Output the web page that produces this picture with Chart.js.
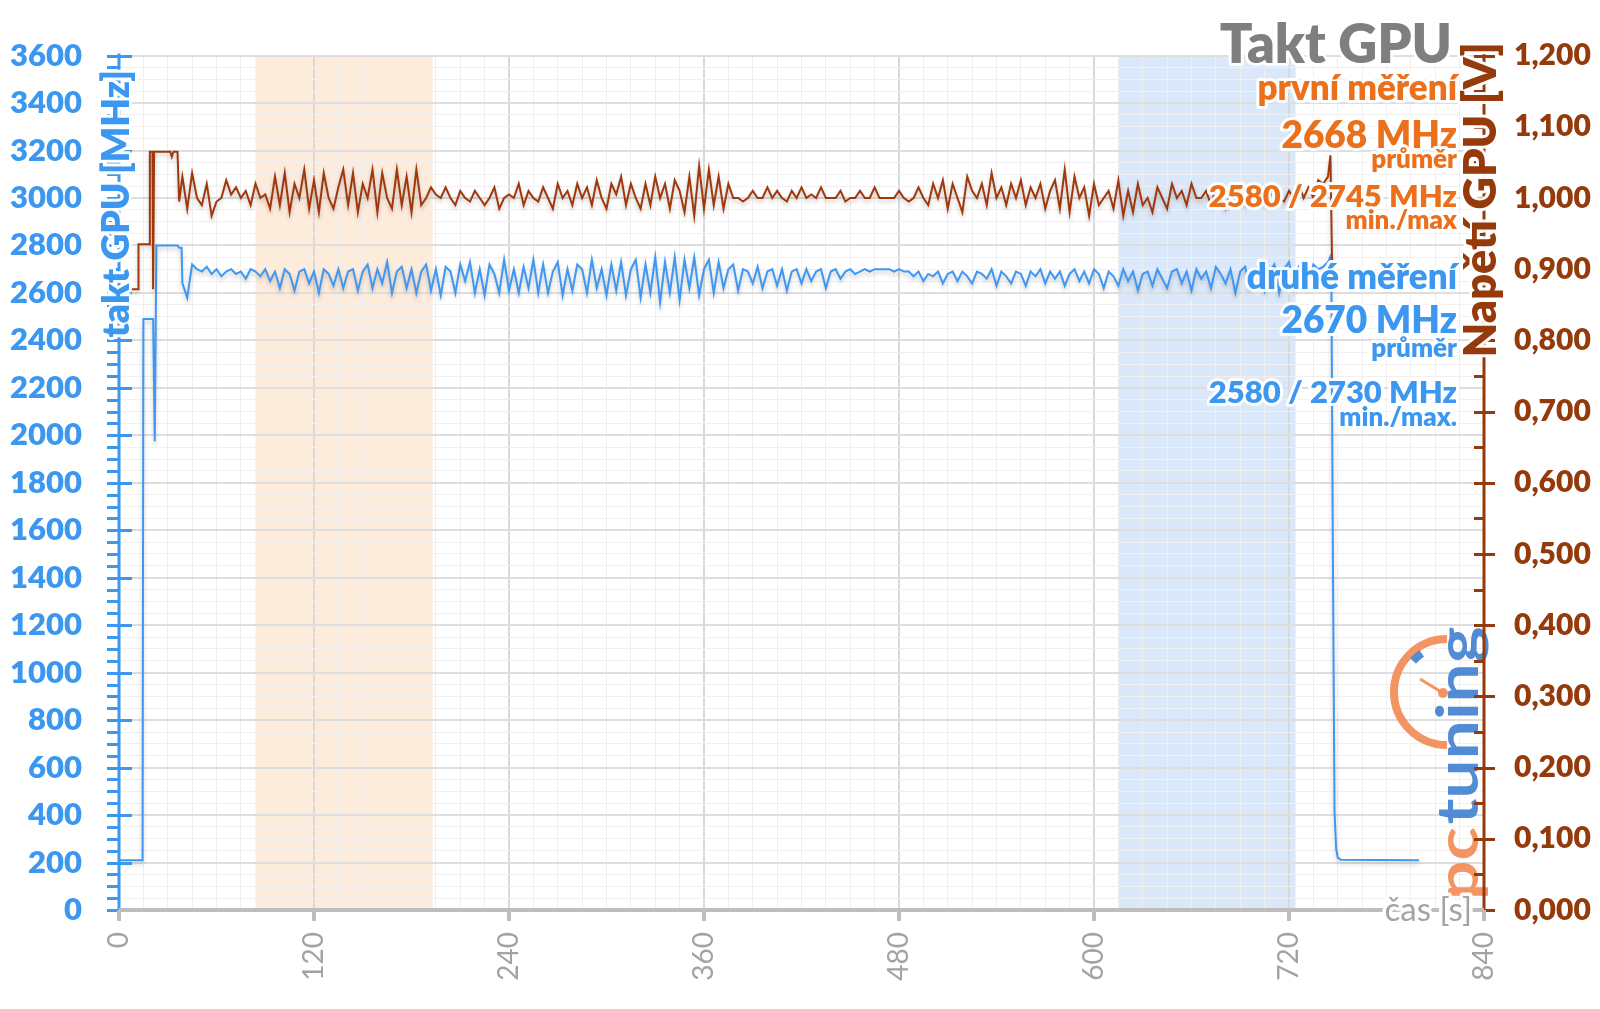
<!DOCTYPE html>
<html>
<head>
<meta charset="utf-8">
<script src="https://cdn.jsdelivr.net/npm/chart.js@4.4.1/dist/chart.umd.min.js"></script>
<style>
  html, body { margin: 0; padding: 0; background: #fff; }
  canvas { display: block; }
</style>
</head>
<body>
<canvas id="chart" width="1600" height="1009"></canvas>
<script>
// GPU clock (MHz, left axis) and GPU voltage (V, right axis), time in seconds
const sampleStart = 39;
const sampleStep = 3;

const clockHead = [[0, 210], [14.5, 210], [15, 2490], [21, 2490], [22, 1975], [23, 2800], [36, 2800], [37, 2790], [38.5, 2790]];
const clockValues = [
  2640, 2580, 2720, 2700, 2690, 2710, 2680, 2700, 2670, 2690,
  2700, 2680, 2690, 2660, 2700, 2690, 2670, 2700, 2650, 2690,
  2620, 2700, 2680, 2610, 2690, 2700, 2640, 2690, 2600, 2700,
  2680, 2630, 2700, 2620, 2690, 2700, 2610, 2690, 2720, 2620,
  2700, 2640, 2730, 2600, 2690, 2710, 2620, 2700, 2600, 2690,
  2720, 2610, 2700, 2590, 2710, 2690, 2600, 2720, 2650, 2730,
  2600, 2700, 2590, 2720, 2680, 2600, 2740, 2610, 2700, 2600,
  2710, 2620, 2740, 2600, 2720, 2600, 2690, 2730, 2590, 2700,
  2610, 2720, 2700, 2600, 2740, 2620, 2700, 2590, 2720, 2610,
  2730, 2590, 2700, 2740, 2580, 2720, 2600, 2750, 2560, 2730,
  2600, 2750, 2570, 2740, 2620, 2750, 2590, 2700, 2740, 2600,
  2730, 2620, 2700, 2720, 2610, 2700, 2690, 2640, 2710, 2620,
  2690, 2700, 2630, 2700, 2610, 2690, 2700, 2640, 2700, 2650,
  2690, 2700, 2620, 2690, 2700, 2660, 2690, 2700, 2680, 2690,
  2700, 2690, 2700, 2700, 2700, 2700, 2690, 2700, 2690, 2690,
  2670, 2690, 2650, 2680, 2670, 2690, 2640, 2680, 2690, 2650,
  2690, 2670, 2640, 2690, 2680, 2660, 2700, 2630, 2690, 2670,
  2640, 2690, 2680, 2630, 2690, 2670, 2700, 2640, 2690, 2660,
  2690, 2630, 2680, 2700, 2650, 2690, 2640, 2700, 2680, 2620,
  2690, 2670, 2630, 2700, 2650, 2690, 2610, 2680, 2690, 2630,
  2700, 2660, 2620, 2690, 2700, 2640, 2690, 2610, 2700, 2660,
  2690, 2620, 2710, 2680, 2640, 2700, 2600, 2690, 2710, 2620,
  2700, 2720, 2610, 2690, 2720, 2600, 2700, 2730, 2620, 2710,
  2690, 2630, 2720, 2700, 2710, 2730
];
const clockTail = [[746, 2760], [747, 1500], [748, 420], [749, 260], [750, 220], [752, 212], [800, 210]];

const voltHead = [[5.5, 0.872], [11.7, 0.872], [12, 0.935], [18.7, 0.935], [19, 1.065], [20.6, 1.065], [21, 0.872], [21.6, 1.065], [31.5, 1.065], [32.5, 1.058], [33.5, 1.065], [36, 1.065], [37, 0.995]];
const voltValues = [
  1.030, 0.985, 1.035, 1.000, 0.990, 1.020, 0.975, 0.995, 1.000, 1.025,
  1.005, 1.015, 1.000, 1.010, 0.990, 1.020, 1.000, 1.005, 0.985, 1.030,
  0.990, 1.035, 0.980, 1.020, 1.000, 1.040, 0.985, 1.025, 0.980, 1.035,
  1.000, 0.985, 1.015, 1.040, 0.990, 1.035, 0.980, 1.020, 1.000, 1.040,
  0.980, 1.035, 1.000, 0.985, 1.040, 0.990, 1.030, 0.980, 1.040, 0.990,
  1.000, 1.015, 1.005, 1.000, 1.015, 1.000, 0.990, 1.010, 1.000, 0.995,
  1.010, 1.000, 0.990, 1.000, 1.015, 0.985, 1.000, 1.005, 1.000, 1.020,
  0.990, 1.010, 1.000, 0.995, 1.015, 1.000, 0.985, 1.020, 1.000, 1.010,
  0.990, 1.020, 1.000, 1.015, 0.990, 1.025, 1.000, 0.985, 1.020, 1.005,
  1.030, 0.990, 1.020, 1.000, 0.985, 1.020, 0.990, 1.030, 1.000, 1.020,
  0.985, 1.025, 1.010, 0.980, 1.030, 0.975, 1.045, 0.985, 1.040, 0.990,
  1.030, 0.985, 1.020, 1.000, 1.000, 0.995, 1.000, 1.010, 1.000, 1.000,
  1.015, 1.000, 1.010, 1.000, 0.995, 1.010, 1.000, 1.015, 1.000, 1.005,
  1.000, 1.015, 1.000, 1.000, 1.000, 1.010, 0.995, 1.000, 1.000, 1.010,
  1.000, 1.000, 1.015, 1.000, 1.000, 1.000, 1.000, 1.010, 1.000, 0.995,
  1.000, 1.015, 1.000, 0.990, 1.020, 1.000, 1.025, 0.985, 1.020, 1.000,
  0.980, 1.030, 1.010, 1.000, 1.020, 0.990, 1.035, 1.000, 1.015, 0.990,
  1.020, 1.000, 1.025, 0.990, 1.015, 1.000, 1.020, 0.985, 1.010, 1.025,
  0.985, 1.040, 0.980, 1.030, 1.000, 1.015, 0.975, 1.020, 0.990, 1.000,
  1.010, 0.985, 1.025, 0.975, 1.010, 0.980, 1.020, 0.990, 1.000, 0.980,
  1.015, 1.000, 0.985, 1.020, 1.000, 1.010, 0.990, 1.020, 1.000, 1.000,
  1.010, 0.990, 1.015, 1.000, 0.985, 1.010, 1.000, 1.000, 0.990, 1.015,
  1.000, 1.010, 0.990, 1.000, 1.015, 1.000, 0.995, 1.010, 1.000, 1.020,
  1.000, 1.015, 1.000, 1.025, 1.020, 1.030
];
const voltTail = [[745.5, 1.060], [746.5, 0.908]];

// shaded test windows (s)
const bandFirst = [84, 193];
const bandSecond = [615, 724];

const timeMax = 840, timeMajor = 120, timeMinor = 15;
const clockMax = 3600, clockMajor = 200, clockMinor = 50;
const voltMax = 1.2, voltMajor = 0.1, voltMinor = 0.05;

const labelsFirst = ['první měření', '2668 MHz', 'průměr', '2580 / 2745 MHz', 'min./max'];
const labelsSecond = ['druhé měření', '2670 MHz', 'průměr', '2580 / 2730 MHz', 'min./max.'];

const BLUE = '#3b97ef';
const ORANGE = '#ea701c';
const BROWN = '#943a0b';
const GRAY = '#a3a3a3';
const FONT = 'Lato, "Open Sans", sans-serif';

function toPoints(head, values, tail) {
  return [
    ...head.map(p => ({ x: p[0], y: p[1] })),
    ...values.map((v, i) => ({ x: sampleStart + i * sampleStep, y: v })),
    ...tail.map(p => ({ x: p[0], y: p[1] }))
  ];
}

function haloText(ctx, text, x, y, font, color, align, baseline, halo) {
  ctx.font = font;
  ctx.textAlign = align || 'right';
  ctx.textBaseline = baseline || 'alphabetic';
  ctx.lineJoin = 'round';
  ctx.strokeStyle = 'rgba(255,255,255,0.95)';
  ctx.lineWidth = halo || 6;
  ctx.strokeText(text, x, y);
  ctx.fillStyle = color;
  ctx.fillText(text, x, y);
}

const isMajor = (v, step) => Math.abs(v / step - Math.round(v / step)) < 1e-6;

const decor = {
  id: 'decor',
  beforeDraw(chart) {
    const { ctx, chartArea: a, scales } = chart;
    ctx.save();
    ctx.fillStyle = '#fff';
    ctx.fillRect(0, 0, chart.width, chart.height);
    [[bandFirst, '#fdebdc'], [bandSecond, '#dbe8f9']].forEach(([b, c]) => {
      const x0 = scales.x.getPixelForValue(b[0]);
      const x1 = scales.x.getPixelForValue(b[1]);
      ctx.fillStyle = c;
      ctx.fillRect(x0, a.top, x1 - x0, a.bottom - a.top);
    });
    ctx.restore();
  },
  beforeDatasetsDraw(chart) {
    const { ctx } = chart;
    // pctuning watermark
    ctx.save();
    ctx.globalAlpha = 0.9;
    const cx = 1447, cy = 692;
    ctx.strokeStyle = '#f28a52';
    ctx.lineWidth = 8;
    ctx.beginPath();
    ctx.arc(cx, cy, 53, -Math.PI / 2, Math.PI / 2, true);
    ctx.stroke();
    ctx.strokeStyle = '#3f7fcf';
    ctx.beginPath();
    ctx.arc(cx, cy, 46, -2.4, -2.15);
    ctx.stroke();
    ctx.strokeStyle = '#f28a52';
    ctx.lineWidth = 3;
    ctx.beginPath();
    ctx.moveTo(cx - 4, cy + 1);
    ctx.lineTo(cx - 27, cy - 13);
    ctx.stroke();
    ctx.fillStyle = '#f28a52';
    ctx.beginPath();
    ctx.arc(cx - 4, cy + 1, 5, 0, Math.PI * 2);
    ctx.fill();
    ctx.translate(1478, 900);
    ctx.rotate(-Math.PI / 2);
    ctx.scale(1.2, 1);
    ctx.font = 'bold 58px ' + FONT;
    ctx.textAlign = 'left';
    ctx.textBaseline = 'alphabetic';
    ctx.fillStyle = '#f28a52';
    ctx.fillText('pc', 0, 0);
    const w = ctx.measureText('pc').width;
    ctx.fillStyle = '#3f7fcf';
    ctx.fillText('tuning', w + 2, 0);
    ctx.restore();
    // soft line shadow
    ctx.save();
    ctx.shadowColor = 'rgba(0,0,0,0.22)';
    ctx.shadowBlur = 4;
    ctx.shadowOffsetY = 3;
  },
  afterDatasetsDraw(chart) {
    const { ctx, chartArea: a, scales } = chart;
    ctx.restore();
    ctx.save();
    // left axis
    ctx.strokeStyle = BLUE;
    ctx.lineWidth = 3;
    ctx.beginPath();
    ctx.moveTo(a.left, a.top - 2);
    ctx.lineTo(a.left, a.bottom);
    ctx.stroke();
    for (let v = 0; v <= clockMax; v += clockMinor) {
      const y = Math.round(scales.y.getPixelForValue(v)) + 0.5;
      const major = v % clockMajor === 0;
      ctx.beginPath();
      ctx.moveTo(a.left - 12, y);
      ctx.lineTo(major ? a.left + 13 : a.left, y);
      ctx.stroke();
    }
    // right axis
    ctx.strokeStyle = BROWN;
    ctx.beginPath();
    ctx.moveTo(a.right, a.top - 2);
    ctx.lineTo(a.right, a.bottom);
    ctx.stroke();
    for (let i = 0; i <= Math.round(voltMax / voltMinor); i++) {
      const v = i * voltMinor;
      const y = Math.round(scales.y1.getPixelForValue(v)) + 0.5;
      const major = isMajor(v, voltMajor);
      ctx.beginPath();
      ctx.moveTo(a.right - 10, y);
      ctx.lineTo(major ? a.right + 11 : a.right, y);
      ctx.stroke();
    }
    // x axis
    ctx.strokeStyle = '#bdbdbd';
    ctx.lineWidth = 4;
    ctx.beginPath();
    ctx.moveTo(a.left, a.bottom);
    ctx.lineTo(a.right, a.bottom);
    ctx.stroke();
    for (let t = 0; t <= timeMax; t += timeMajor) {
      const x = scales.x.getPixelForValue(t);
      ctx.beginPath();
      ctx.moveTo(x, a.bottom);
      ctx.lineTo(x, a.bottom + 11);
      ctx.stroke();
    }
    ctx.restore();
  },
  afterDraw(chart) {
    const { ctx } = chart;
    ctx.save();
    // axis titles
    ctx.save();
    ctx.translate(117, 70);
    ctx.rotate(-Math.PI / 2);
    haloText(ctx, 'takt GPU [MHz]', 0, 0, '800 37px ' + FONT, BLUE, 'right', 'middle', 6);
    ctx.restore();
    ctx.save();
    ctx.translate(1481, 42);
    ctx.rotate(-Math.PI / 2);
    haloText(ctx, 'Napětí GPU [V]', 0, 0, '800 45px ' + FONT, BROWN, 'right', 'middle', 6);
    ctx.restore();
    haloText(ctx, 'čas [s]', 1472, 921, 'normal 33px ' + FONT, GRAY, 'right', 'alphabetic', 7);
    // title and summary
    haloText(ctx, 'Takt GPU', 1452, 63, '800 54px ' + FONT, '#7f7f7f', 'right', 'alphabetic', 6);
    const rx = 1457;
    const fonts = ['800 35px ', '800 37px ', '800 26px ', '800 31px ', '800 26px '];
    const y1 = [100, 148, 168, 207, 229];
    const y2 = [289, 333, 357, 403, 426];
    labelsFirst.forEach((t, i) => haloText(ctx, t, rx, y1[i], fonts[i] + FONT, ORANGE, 'right', 'alphabetic', 6));
    labelsSecond.forEach((t, i) => haloText(ctx, t, rx, y2[i], fonts[i] + FONT, BLUE, 'right', 'alphabetic', 6));
    ctx.restore();
  }
};

new Chart(document.getElementById('chart'), {
  type: 'line',
  data: {
    datasets: [
      {
        label: 'Napětí GPU',
        data: toPoints(voltHead, voltValues, voltTail),
        yAxisID: 'y1',
        borderColor: '#a0380c',
        borderWidth: 2,
        pointRadius: 0,
        tension: 0,
        order: 0
      },
      {
        label: 'Takt GPU',
        data: toPoints(clockHead, clockValues, clockTail),
        yAxisID: 'y',
        borderColor: '#3d97f3',
        borderWidth: 2,
        pointRadius: 0,
        tension: 0,
        order: 1
      }
    ]
  },
  options: {
    responsive: false,
    animation: false,
    devicePixelRatio: 1,
    layout: { padding: { top: 55, left: 0, right: 0, bottom: 0 } },
    plugins: { legend: { display: false }, tooltip: { enabled: false } },
    scales: {
      x: {
        type: 'linear',
        min: 0,
        max: timeMax,
        afterFit: s => { s.height = 99; },
        border: { display: false },
        grid: {
          drawTicks: false,
          color: c => isMajor(c.tick.value, timeMajor) ? '#d9d9d9' : '#efefef',
          lineWidth: c => isMajor(c.tick.value, timeMajor) ? 2 : 1
        },
        ticks: {
          stepSize: timeMinor,
          maxTicksLimit: 1000,
          autoSkip: false,
          minRotation: 90,
          maxRotation: 90,
          padding: 22,
          color: GRAY,
          font: { family: FONT, size: 28 },
          callback: v => isMajor(v, timeMajor) ? String(v) : ''
        }
      },
      y: {
        position: 'left',
        min: 0,
        max: clockMax,
        afterFit: s => { s.width = 119; },
        border: { display: false },
        grid: {
          drawTicks: false,
          color: c => c.tick.value % clockMajor === 0 ? '#dedede' : '#f0f0f0',
          lineWidth: c => c.tick.value % clockMajor === 0 ? 2 : 1
        },
        ticks: {
          stepSize: clockMinor,
          maxTicksLimit: 1000,
          autoSkip: false,
          padding: 37,
          color: BLUE,
          font: { family: FONT, size: 31, weight: 800 },
          callback: v => v % clockMajor === 0 ? String(v) : ''
        }
      },
      y1: {
        position: 'right',
        min: 0,
        max: voltMax,
        afterFit: s => { s.width = 116; },
        border: { display: false },
        grid: { display: false, drawTicks: false },
        ticks: {
          stepSize: voltMinor,
          maxTicksLimit: 1000,
          autoSkip: false,
          padding: 30,
          color: BROWN,
          font: { family: FONT, size: 30, weight: 800 },
          callback: v => isMajor(v, voltMajor) ? v.toFixed(3).replace('.', ',') : ''
        }
      }
    }
  },
  plugins: [decor]
});
</script>
</body>
</html>
